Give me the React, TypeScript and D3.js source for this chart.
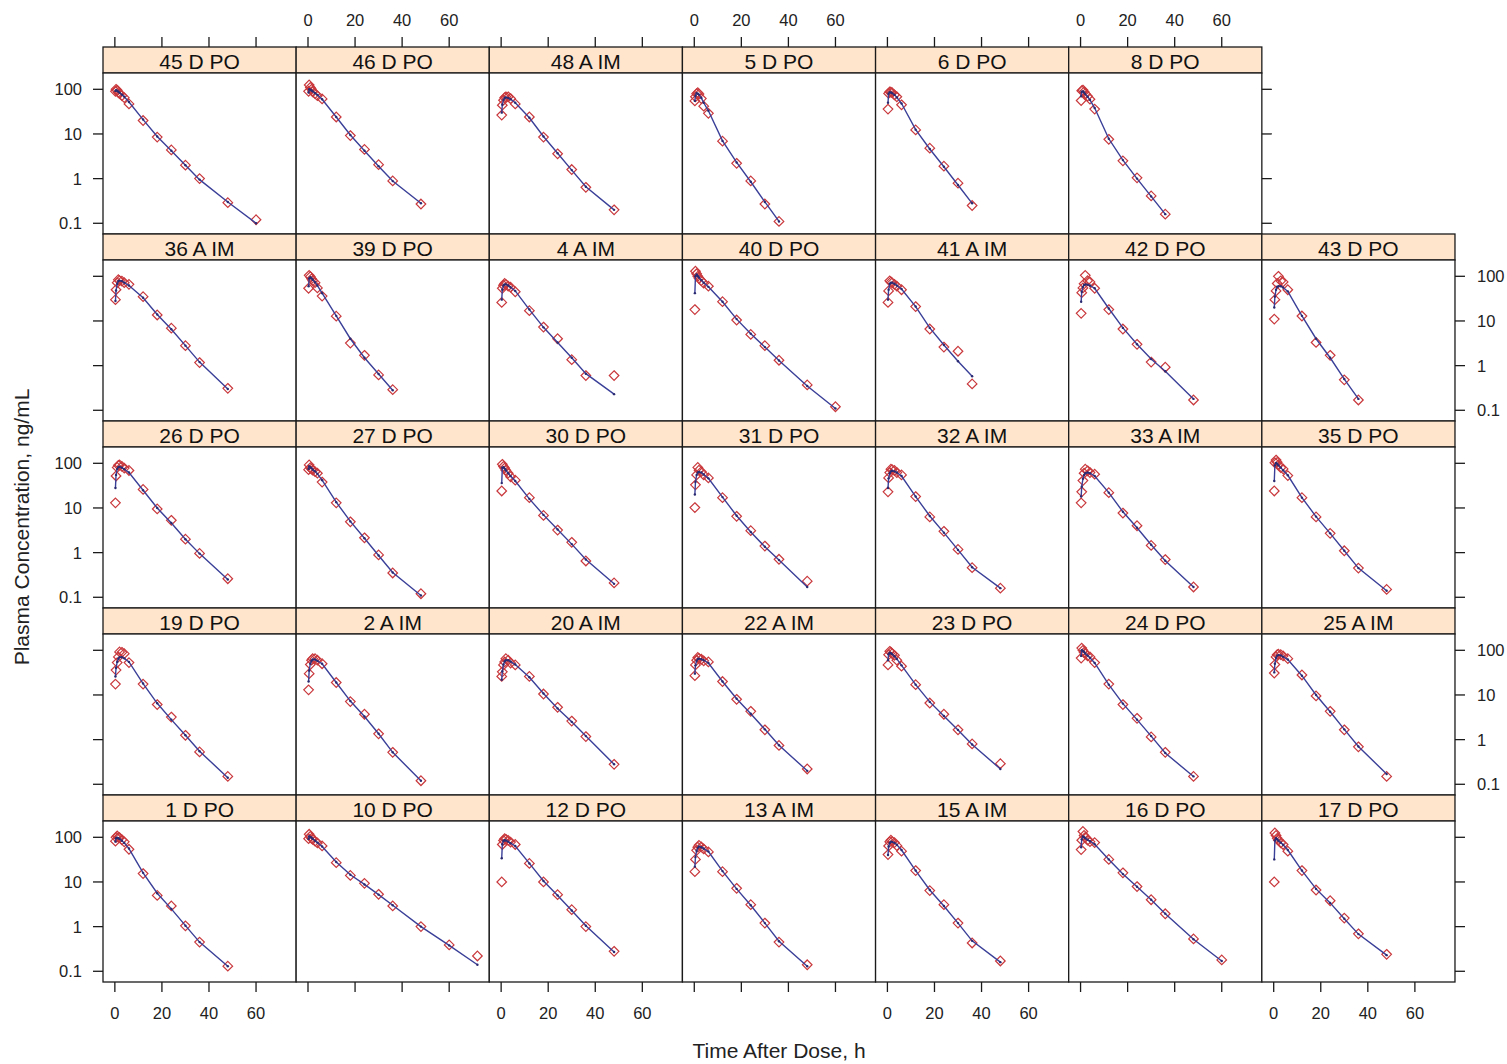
import React from "react";
import * as d3 from "d3";

// Sampling times (h) shared by all subjects; each subject uses the first n
const TIMES = [0.25, 0.5, 1, 1.5, 2, 3, 4, 6, 12, 18, 24, 30, 36, 48, 60, 72];
const X_TICKS = [0, 20, 40, 60];
const Y_TICKS = [0.1, 1, 10, 100];
const Y_TICK_LABELS = ["0.1", "1", "10", "100"];

// observed (obs) and individual predicted (pred) concentrations, ng/mL
const obs45 = [90, 100, 95, 85, 80, 72, 65, 47, 20, 8.5, 4.4, 2.0, 1.0, 0.29, 0.12];
const pred45 = [92, 95, 93, 88, 84, 76, 68, 52, 21, 8.8, 4.2, 2.0, 0.95, 0.3, 0.1];
const obs46 = [90, 125, 110, 100, 88, 80, 72, 61, 24, 9.2, 4.5, 2.05, 0.89, 0.27];
const pred46 = [85, 100, 98, 94, 90, 82, 75, 60, 24, 9.5, 4.2, 1.9, 0.88, 0.28];
const obs48 = [26.5, 44, 57, 65, 68, 68, 62, 47, 24, 8.5, 3.6, 1.6, 0.64, 0.2];
const pred48 = [30, 45, 58, 64, 66, 64, 60, 50, 23, 8.8, 3.7, 1.55, 0.66, 0.2];
const obs5 = [55, 68, 80, 84, 78, 62, 42, 29, 6.9, 2.2, 0.89, 0.27, 0.11];
const pred5 = [55, 72, 82, 80, 76, 64, 50, 33, 7.0, 2.3, 0.85, 0.3, 0.11];
const obs6 = [36, 81, 88, 86, 84, 75, 68, 45, 12.3, 4.8, 1.9, 0.79, 0.25];
const pred6 = [50, 80, 86, 85, 82, 75, 66, 48, 12.5, 4.6, 1.85, 0.72, 0.28];
const obs8 = [56, 93, 96, 88, 80, 70, 60, 36, 7.6, 2.5, 1.04, 0.41, 0.16];
const pred8 = [70, 88, 90, 85, 78, 68, 58, 38, 7.8, 2.6, 1.0, 0.4, 0.16];

const obs36 = [30, 50, 72, 84, 80, 78, 72, 66, 35, 13.6, 6.9, 2.8, 1.17, 0.31];
const pred36 = [28, 48, 68, 78, 80, 78, 72, 62, 33, 14, 6.5, 2.8, 1.2, 0.3];
const obs39 = [54, 105, 98, 88, 80, 72, 55, 36, 12.8, 3.2, 1.7, 0.62, 0.29];
const pred39 = [60, 90, 95, 90, 84, 74, 62, 42, 13, 4.0, 1.5, 0.65, 0.28];
const obs4 = [26, 54, 63, 69, 66, 60, 57, 45, 17, 7.3, 4.0, 1.36, 0.6, 0.6];
const pred4 = [30, 50, 62, 66, 66, 62, 57, 47, 18, 7.2, 3.3, 1.5, 0.66, 0.23];
const obs40 = [18, 130, 114, 100, 90, 80, 70, 60, 27, 10.5, 5.0, 2.8, 1.32, 0.37, 0.12];
const pred40 = [42, 100, 110, 102, 94, 82, 72, 58, 27, 11, 5.2, 2.6, 1.3, 0.35, 0.11];
const obs41 = [26, 47, 79, 75, 71, 66, 60, 50, 21, 6.6, 2.6, 2.1, 0.39];
const pred41 = [30, 50, 68, 72, 72, 68, 62, 52, 21, 7.0, 2.9, 1.25, 0.58];
const obs42 = [14.8, 43, 55, 68, 105, 80, 75, 54, 18, 6.6, 3.0, 1.2, 0.92, 0.17];
const pred42 = [27, 45, 58, 64, 66, 65, 62, 54, 19, 7.0, 3.0, 1.4, 0.75, 0.18];
const obs43 = [11, 30, 47, 69, 100, 79, 75, 50, 12.9, 3.3, 1.7, 0.48, 0.17];
const pred43 = [20, 35, 50, 58, 60, 60, 56, 46, 13, 4.0, 1.5, 0.5, 0.18];

const obs26 = [13, 52, 81, 90, 92, 85, 78, 69, 26, 9.5, 5.3, 2.0, 0.96, 0.26];
const pred26 = [28, 55, 75, 82, 84, 80, 74, 62, 25, 10, 4.6, 2.0, 0.95, 0.25];
const obs27 = [72, 92, 80, 75, 70, 65, 60, 38, 13, 4.9, 2.15, 0.89, 0.35, 0.12];
const pred27 = [75, 85, 82, 78, 72, 66, 58, 42, 13.5, 5.0, 2.1, 0.86, 0.36, 0.11];
const obs30 = [24, 95, 85, 78, 70, 60, 50, 42, 17, 6.8, 3.2, 1.7, 0.65, 0.21];
const pred30 = [36, 80, 82, 76, 70, 60, 52, 40, 16, 7.0, 3.3, 1.55, 0.7, 0.2];
const obs31 = [10.2, 33, 55, 81, 70, 65, 55, 47, 17, 6.5, 3.1, 1.4, 0.71, 0.23];
const pred31 = [20, 38, 55, 62, 64, 62, 56, 46, 17.5, 6.7, 2.9, 1.35, 0.68, 0.17];
const obs32 = [23, 47, 62, 74, 72, 69, 62, 55, 18, 6.3, 3.0, 1.18, 0.46, 0.16];
const pred32 = [28, 46, 60, 66, 68, 66, 62, 52, 18, 6.6, 2.8, 1.15, 0.47, 0.16];
const obs33 = [13, 23, 41, 60, 74, 68, 62, 57, 22, 7.7, 4.0, 1.45, 0.7, 0.17];
const pred33 = [18, 30, 45, 55, 60, 62, 60, 52, 22, 8.2, 3.6, 1.5, 0.66, 0.17];
const obs35 = [24, 103, 118, 105, 92, 80, 75, 53, 17, 6.3, 2.7, 1.1, 0.45, 0.15];
const pred35 = [40, 90, 102, 98, 90, 80, 70, 54, 17, 6.4, 2.7, 1.1, 0.45, 0.14];

const obs19 = [17.5, 36, 53, 71, 92, 90, 84, 53, 17.5, 6.1, 3.2, 1.25, 0.53, 0.15];
const pred19 = [26, 40, 55, 65, 70, 70, 66, 55, 18, 6.5, 2.8, 1.25, 0.55, 0.14];
const obs2 = [13, 30, 48, 60, 65, 65, 60, 50, 19, 7.1, 3.7, 1.35, 0.52, 0.12];
const pred2 = [20, 35, 50, 58, 62, 62, 58, 50, 19, 7.3, 3.3, 1.35, 0.52, 0.12];
const obs20 = [26, 33, 47, 55, 65, 60, 52, 47, 26, 10.5, 5.3, 2.6, 1.17, 0.28];
const pred20 = [22, 34, 48, 56, 60, 60, 56, 48, 25, 10.8, 5.0, 2.5, 1.2, 0.28];
const obs22 = [27, 47, 60, 69, 66, 63, 58, 55, 20, 8.0, 4.3, 1.66, 0.74, 0.22];
const pred22 = [30, 46, 58, 64, 65, 63, 60, 52, 20, 8.2, 3.8, 1.7, 0.75, 0.2];
const obs23 = [47, 80, 95, 90, 84, 77, 60, 44, 17, 6.6, 3.7, 1.66, 0.8, 0.29];
const pred23 = [60, 82, 88, 86, 82, 74, 64, 46, 17, 7.0, 3.4, 1.65, 0.78, 0.22];
const obs24 = [67, 112, 100, 90, 84, 75, 71, 53, 17.5, 6.1, 3.0, 1.15, 0.52, 0.15];
const pred24 = [75, 100, 98, 92, 85, 76, 68, 52, 17, 6.4, 2.8, 1.2, 0.5, 0.15];
const obs25 = [31, 48, 71, 80, 82, 80, 75, 65, 28, 9.5, 4.3, 1.66, 0.69, 0.15];
const pred25 = [32, 50, 68, 76, 78, 77, 72, 62, 27, 10, 4.2, 1.7, 0.7, 0.17];

const obs1 = [82, 100, 107, 100, 98, 88, 79, 54, 15.4, 5.0, 2.9, 1.04, 0.45, 0.13];
const pred1 = [80, 95, 98, 95, 92, 84, 75, 56, 16, 5.6, 2.5, 1.05, 0.45, 0.13];
const obs10 = [93, 117, 105, 95, 90, 82, 75, 64, 27, 14, 9.3, 5.3, 2.9, 1.0, 0.39, 0.22];
const pred10 = [92, 105, 102, 98, 92, 84, 76, 62, 28, 14.5, 8.8, 5.2, 3.0, 1.0, 0.38, 0.14];
const obs12 = [10, 69, 85, 93, 90, 85, 78, 69, 26, 10, 5.2, 2.4, 1.0, 0.28];
const pred12 = [34, 70, 84, 86, 85, 80, 74, 64, 26, 10.5, 5.0, 2.3, 1.05, 0.27];
const obs13 = [17, 32, 51, 60, 66, 61, 55, 47, 17, 7.2, 3.1, 1.2, 0.45, 0.14];
const pred13 = [22, 36, 50, 58, 62, 60, 56, 48, 17.5, 7.0, 3.0, 1.2, 0.47, 0.13];
const obs15 = [41, 64, 79, 86, 80, 76, 65, 49, 18, 6.4, 3.1, 1.2, 0.43, 0.17];
const pred15 = [40, 62, 75, 80, 79, 75, 68, 52, 18, 6.6, 2.9, 1.2, 0.48, 0.16];
const obs16 = [53, 86, 135, 110, 100, 86, 80, 76, 32, 16, 7.9, 4.0, 1.94, 0.53, 0.18];
const pred16 = [60, 90, 105, 100, 95, 88, 82, 70, 32, 15, 7.8, 4.0, 1.95, 0.52, 0.17];
const obs17 = [10, 125, 110, 95, 86, 75, 69, 49, 18, 6.6, 3.8, 1.55, 0.69, 0.24];
const pred17 = [32, 85, 95, 90, 84, 76, 68, 52, 18, 7.0, 3.4, 1.5, 0.68, 0.23];

// panel layout: rows top to bottom, columns left to right (null = empty)
const ROW_LABELS = [
  ["45 D PO", "46 D PO", "48 A IM", "5 D PO", "6 D PO", "8 D PO", null],
  ["36 A IM", "39 D PO", "4 A IM", "40 D PO", "41 A IM", "42 D PO", "43 D PO"],
  ["26 D PO", "27 D PO", "30 D PO", "31 D PO", "32 A IM", "33 A IM", "35 D PO"],
  ["19 D PO", "2 A IM", "20 A IM", "22 A IM", "23 D PO", "24 D PO", "25 A IM"],
  ["1 D PO", "10 D PO", "12 D PO", "13 A IM", "15 A IM", "16 D PO", "17 D PO"],
];
const ROW_OBS = [
  [obs45, obs46, obs48, obs5, obs6, obs8, null],
  [obs36, obs39, obs4, obs40, obs41, obs42, obs43],
  [obs26, obs27, obs30, obs31, obs32, obs33, obs35],
  [obs19, obs2, obs20, obs22, obs23, obs24, obs25],
  [obs1, obs10, obs12, obs13, obs15, obs16, obs17],
];
const ROW_PRED = [
  [pred45, pred46, pred48, pred5, pred6, pred8, null],
  [pred36, pred39, pred4, pred40, pred41, pred42, pred43],
  [pred26, pred27, pred30, pred31, pred32, pred33, pred35],
  [pred19, pred2, pred20, pred22, pred23, pred24, pred25],
  [pred1, pred10, pred12, pred13, pred15, pred16, pred17],
];

const W = 1507;
const H = 1064;
const LEFT = 103;
const TOP = 47;
const COL_W = 193.14;
const ROW_H = 187;
const STRIP_H = 26;
const PANEL_H = ROW_H - STRIP_H;
const NCOL = 7;
const NROW = 5;
const FONT = "'Liberation Sans', Arial, Helvetica, sans-serif";
const STRIP_FILL = "#ffe5cc";
const FRAME = "#1a1a1a";
const OBS_COL = "#c9383c";
const PRED_COL = "#3a3f98";
const TICK_LEN = 10;

const x = d3.scaleLinear().domain([-5.04, 77.04]).range([0, COL_W]);
const y = d3.scaleLog().domain([Math.pow(10, -1.24), Math.pow(10, 2.365)]).range([PANEL_H, 0]);

const diamond = (cx: number, cy: number, s: number) =>
  `M${cx},${cy - s}L${cx + s},${cy}L${cx},${cy + s}L${cx - s},${cy}Z`;

function Panel({ r, c, label, obs, pred }: any) {
  const px = LEFT + c * COL_W;
  const py = TOP + r * ROW_H;
  const line = d3
    .line<number>()
    .x((_, i) => x(TIMES[i]))
    .y((d) => y(d));
  return (
    <g transform={`translate(${px},${py})`}>
      <rect x={0} y={0} width={COL_W} height={STRIP_H} fill={STRIP_FILL} stroke={FRAME} strokeWidth={1.3} />
      <text x={COL_W / 2} y={STRIP_H / 2 + 1} textAnchor="middle" dominantBaseline="central"
        fontFamily={FONT} fontSize={21} fill="#111">{label}</text>
      <g transform={`translate(0,${STRIP_H})`}>
        <rect x={0} y={0} width={COL_W} height={PANEL_H} fill="white" stroke={FRAME} strokeWidth={1.3} />
        {obs.map((d: number, i: number) => (
          <path key={"o" + i} d={diamond(x(TIMES[i]), y(d), 4.8)} fill="none" stroke={OBS_COL} strokeWidth={1.2} />
        ))}
        <path d={line(pred) || ""} fill="none" stroke={PRED_COL} strokeWidth={1.4} />
        {pred.map((d: number, i: number) => (
          <circle key={"p" + i} cx={x(TIMES[i])} cy={y(d)} r={1.2} fill="#2a2a70" />
        ))}
      </g>
    </g>
  );
}

export default function App() {
  const panels: any[] = [];
  for (let r = 0; r < NROW; r++) {
    for (let c = 0; c < NCOL; c++) {
      const label = ROW_LABELS[r][c];
      if (!label) continue;
      panels.push(
        <Panel key={label} r={r} c={c} label={label} obs={ROW_OBS[r][c]} pred={ROW_PRED[r][c]} />
      );
    }
  }

  const axes: any[] = [];
  // top axis (row 0 columns)
  for (let c = 0; c < NCOL; c++) {
    if (!ROW_LABELS[0][c]) continue;
    const px = LEFT + c * COL_W;
    X_TICKS.forEach((t) => {
      axes.push(<line key={`tt${c}-${t}`} x1={px + x(t)} x2={px + x(t)} y1={TOP - TICK_LEN} y2={TOP} stroke={FRAME} strokeWidth={1.3} />);
      if (c % 2 === 1)
        axes.push(<text key={`tl${c}-${t}`} x={px + x(t)} y={26} textAnchor="middle" fontFamily={FONT} fontSize={16.5} fill="#222">{t}</text>);
    });
  }
  // bottom axis
  const bottom = TOP + NROW * ROW_H;
  for (let c = 0; c < NCOL; c++) {
    const px = LEFT + c * COL_W;
    X_TICKS.forEach((t) => {
      axes.push(<line key={`bt${c}-${t}`} x1={px + x(t)} x2={px + x(t)} y1={bottom} y2={bottom + TICK_LEN} stroke={FRAME} strokeWidth={1.3} />);
      if (c % 2 === 0)
        axes.push(<text key={`bl${c}-${t}`} x={px + x(t)} y={1019} textAnchor="middle" fontFamily={FONT} fontSize={16.5} fill="#222">{t}</text>);
    });
  }
  // left and right axes
  for (let r = 0; r < NROW; r++) {
    const py = TOP + r * ROW_H + STRIP_H;
    const lastCol = ROW_LABELS[r][NCOL - 1] ? NCOL : NCOL - 1;
    const rx = LEFT + lastCol * COL_W;
    Y_TICKS.forEach((v, k) => {
      const yy = py + y(v);
      axes.push(<line key={`lt${r}-${k}`} x1={LEFT - TICK_LEN} x2={LEFT} y1={yy} y2={yy} stroke={FRAME} strokeWidth={1.3} />);
      axes.push(<line key={`rt${r}-${k}`} x1={rx} x2={rx + TICK_LEN} y1={yy} y2={yy} stroke={FRAME} strokeWidth={1.3} />);
      if (r % 2 === 0)
        axes.push(<text key={`ll${r}-${k}`} x={82} y={yy} textAnchor="end" dominantBaseline="central" fontFamily={FONT} fontSize={16.5} fill="#222">{Y_TICK_LABELS[k]}</text>);
      else
        axes.push(<text key={`rl${r}-${k}`} x={rx + 22} y={yy} textAnchor="start" dominantBaseline="central" fontFamily={FONT} fontSize={16.5} fill="#222">{Y_TICK_LABELS[k]}</text>);
    });
  }

  return (
    <svg width={W} height={H} style={{ position: "absolute", left: 0, top: 0, background: "white" }}>
      <rect x={0} y={0} width={W} height={H} fill="white" />
      {panels}
      {axes}
      <text x={779} y={1058} textAnchor="middle" fontFamily={FONT} fontSize={21} fill="#222">Time After Dose, h</text>
      <text transform="translate(29,527) rotate(-90)" textAnchor="middle" fontFamily={FONT} fontSize={21} fill="#222">Plasma Concentration, ng/mL</text>
    </svg>
  );
}
